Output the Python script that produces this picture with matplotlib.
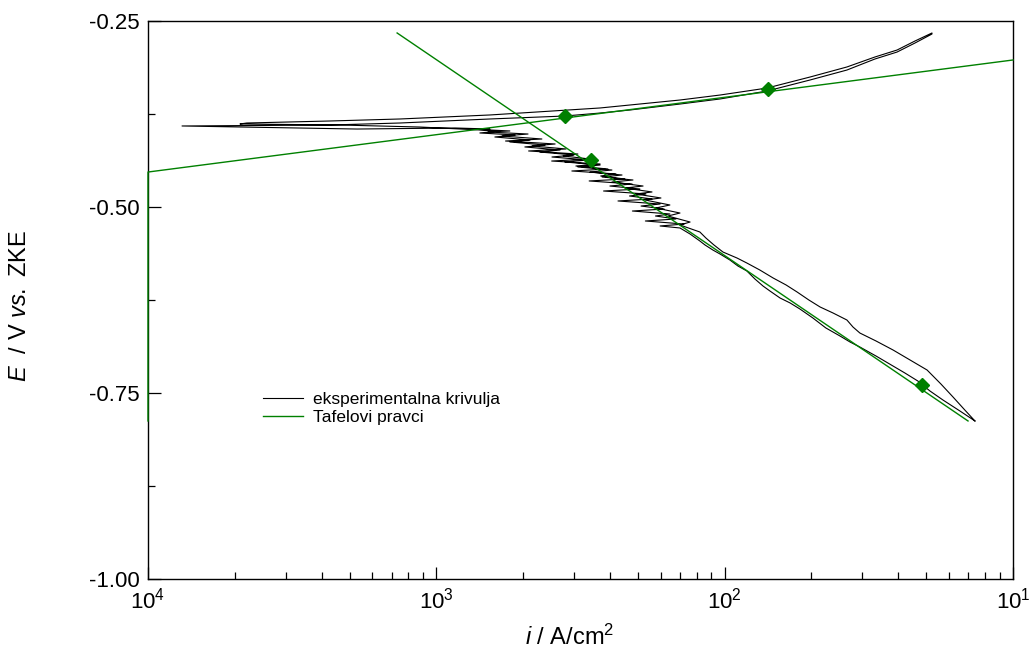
import matplotlib
matplotlib.use("Agg")
import matplotlib.pyplot as plt
import numpy as np
from matplotlib.ticker import FixedLocator, FixedFormatter, FormatStrFormatter, LogLocator, NullFormatter

plt.rcParams.update({
    "font.family": ["Liberation Sans", "DejaVu Sans"],
    "mathtext.fontset": "custom",
    "mathtext.rm": "Liberation Sans",
    "mathtext.it": "Liberation Sans:italic",
    "axes.unicode_minus": False,
})

GREEN = "#008000"

# polarisation curve, log10(i / A cm^-2) and E / V, in scan order
# cathodic branch, forward scan (noisy near Ecorr)
cat_fwd_logi = [-1.132, -1.184, -1.243, -1.288, -1.330, -1.375, -1.416, -1.475, -1.531, -1.565,
                -1.600, -1.649, -1.694, -1.739, -1.773, -1.808, -1.843, -1.867, -1.895, -1.923,
                -1.954, -1.982, -2.016, -2.041, -2.068, -2.086, -2.120, -2.155, -2.224, -2.141,
                -2.275, -2.169, -2.240, -2.190, -2.320, -2.210, -2.290, -2.224, -2.370, -2.252,
                -2.330, -2.273, -2.420, -2.294, -2.398, -2.321, -2.470, -2.346, -2.430, -2.377,
                -2.530, -2.405, -2.516, -2.432, -2.600, -2.467, -2.560, -2.509, -2.680, -2.550,
                -2.668, -2.588, -2.760, -2.634, -2.772, -2.682, -2.821, -2.745, -2.883, -2.814,
                -2.935, -3.275, -3.882, -3.369]
cat_fwd_E = [-0.7876, -0.7742, -0.7594, -0.7473, -0.7339, -0.7231, -0.7137, -0.7003, -0.6882, -0.6815,
             -0.6734, -0.6626, -0.6492, -0.6371, -0.6290, -0.6223, -0.6129, -0.6062, -0.5968, -0.5860,
             -0.5793, -0.5712, -0.5632, -0.5578, -0.5511, -0.5457, -0.5363, -0.5282, -0.5255, -0.5229,
             -0.5188, -0.5161, -0.5121, -0.5094, -0.5054, -0.5027, -0.4987, -0.4960, -0.4919, -0.4892,
             -0.4852, -0.4825, -0.4785, -0.4758, -0.4718, -0.4691, -0.4650, -0.4624, -0.4583, -0.4556,
             -0.4516, -0.4489, -0.4449, -0.4422, -0.4382, -0.4355, -0.4314, -0.4288, -0.4247, -0.4220,
             -0.4180, -0.4153, -0.4113, -0.4086, -0.4046, -0.4019, -0.3992, -0.3978, -0.3952, -0.3952,
             -0.3938, -0.3952, -0.3911, -0.3898]

# anodic branch, forward scan
an_fwd_logi = [-3.126, -2.814, -2.554, -2.432, -2.328, -2.155, -2.016, -1.853, -1.704, -1.576,
               -1.479, -1.402, -1.340, -1.281]
an_fwd_E = [-0.3871, -0.3817, -0.3777, -0.3737, -0.3696, -0.3616, -0.3548, -0.3441, -0.3293, -0.3159,
            -0.3011, -0.2917, -0.2796, -0.2675]

# anodic branch, reverse scan
an_rev_logi = [-1.281, -1.340, -1.402, -1.479, -1.576, -1.704, -1.853, -2.016, -2.155, -2.328,
               -2.432, -2.814, -3.126, -3.369, -3.657, -3.681, -3.334, -3.057]
an_rev_E = [-0.2661, -0.2769, -0.2890, -0.2984, -0.3118, -0.3253, -0.3401, -0.3495, -0.3562, -0.3629,
            -0.3669, -0.3763, -0.3817, -0.3844, -0.3871, -0.3884, -0.3898, -0.3925]

# cathodic branch, reverse scan
cat_rev_logi = [-2.779, -2.849, -2.727, -2.797, -2.675, -2.745, -2.623, -2.693, -2.571, -2.641,
                -2.523, -2.599, -2.474, -2.554, -2.432, -2.509, -2.391, -2.467, -2.356, -2.425,
                -2.318, -2.391, -2.283, -2.346, -2.252, -2.308, -2.221, -2.276, -2.190, -2.238,
                -2.155, -2.197, -2.120, -2.155, -2.086, -2.065, -2.037, -2.006, -1.957, -1.923,
                -1.878, -1.832, -1.787, -1.749, -1.708, -1.669, -1.624, -1.576, -1.555, -1.531,
                -1.475, -1.416, -1.357, -1.298, -1.250, -1.208, -1.167, -1.132]
cat_rev_E = [-0.3978, -0.4005, -0.4032, -0.4059, -0.4099, -0.4126, -0.4167, -0.4193, -0.4234, -0.4261,
             -0.4301, -0.4328, -0.4368, -0.4395, -0.4436, -0.4462, -0.4503, -0.4530, -0.4570, -0.4597,
             -0.4637, -0.4664, -0.4718, -0.4745, -0.4798, -0.4825, -0.4879, -0.4906, -0.4973, -0.5013,
             -0.5081, -0.5121, -0.5202, -0.5242, -0.5336, -0.5417, -0.5511, -0.5605, -0.5686, -0.5753,
             -0.5847, -0.5954, -0.6048, -0.6142, -0.6250, -0.6344, -0.6425, -0.6519, -0.6613, -0.6694,
             -0.6801, -0.6922, -0.7057, -0.7191, -0.7379, -0.7554, -0.7729, -0.7876]

# Tafel lines
tafel_an_logi = [-4.0, -4.0, -1.0]
tafel_an_E = [-0.7876, -0.4530, -0.3024]
tafel_cat_logi = [-3.136, -1.156]
tafel_cat_E = [-0.2661, -0.7876]

# fit range limits
fit_logi = [-2.554, -2.464, -1.850, -1.316]
fit_E = [-0.3777, -0.4368, -0.3414, -0.7392]

exp_logi = np.array(cat_fwd_logi + an_fwd_logi + an_rev_logi + cat_rev_logi)
exp_E = np.array(cat_fwd_E + an_fwd_E + an_rev_E + cat_rev_E)

fig = plt.figure(figsize=(10.35, 6.55), dpi=100)
ax = fig.add_axes([148 / 1035, 76 / 655, 865 / 1035, 558 / 655])

ax.plot(10 ** exp_logi, exp_E, color="black", lw=0.8, label="eksperimentalna krivulja", zorder=3)
ax.plot(10 ** np.array(tafel_an_logi), tafel_an_E, color=GREEN, lw=1.0,
        label="Tafelovi pravci", clip_on=False, zorder=4)
ax.plot(10 ** np.array(tafel_cat_logi), tafel_cat_E, color=GREEN, lw=1.0, zorder=4)
ax.plot(10 ** np.array(fit_logi), fit_E, ls="none", marker="D", ms=7.5, color=GREEN, zorder=5)

ax.set_xscale("log")
ax.set_xlim(1e-4, 1e-1)
ax.set_ylim(-1.0, -0.25)

ax.xaxis.set_major_locator(FixedLocator([1e-4, 1e-3, 1e-2, 1e-1]))
ax.xaxis.set_major_formatter(FixedFormatter(["$10^{4}$", "$10^{3}$", "$10^{2}$", "$10^{1}$"]))
ax.xaxis.set_minor_locator(LogLocator(base=10, subs=np.arange(2, 10)))
ax.xaxis.set_minor_formatter(NullFormatter())
ax.yaxis.set_major_locator(FixedLocator([-1.0, -0.75, -0.5, -0.25]))
ax.yaxis.set_major_formatter(FormatStrFormatter("%.2f"))
ax.yaxis.set_minor_locator(FixedLocator([-0.875, -0.625, -0.375]))

ax.tick_params(which="both", direction="in", top=False, right=False, width=0.9, labelsize=16)
ax.tick_params(which="major", length=9, pad=6)
ax.tick_params(which="minor", length=5)
for s in ax.spines.values():
    s.set_linewidth(1.0)

ax.set_xlabel("$i$ / A/cm$^2$", fontsize=17)
ax.xaxis.set_label_coords(0.488, -0.082)
ax.set_ylabel("$E$  / V $vs.$ ZKE", fontsize=17)
ax.yaxis.set_label_coords(-0.135, 0.49)

ax.legend(loc="upper left", bbox_to_anchor=(0.133, 0.335), frameon=False, fontsize=12.5,
          handlelength=2.3, handletextpad=0.6, labelspacing=0.15, borderpad=0, borderaxespad=0)

fig.savefig("out.png", dpi=100)
